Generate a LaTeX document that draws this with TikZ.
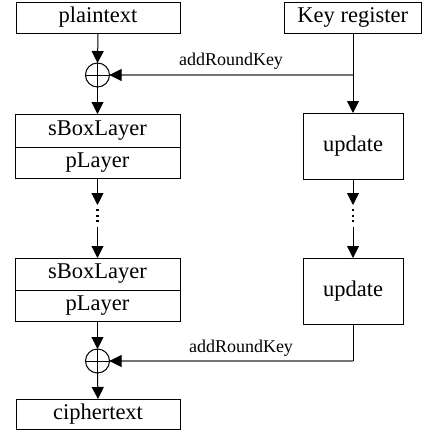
\documentclass[tikz,border=0pt]{standalone}
\usepackage{fontspec}
\setmainfont{Liberation Serif}
\usetikzlibrary{arrows.meta,calc}
\begin{document}
\begin{tikzpicture}[x=1pt,y=1pt,
  blk/.style={rectangle,inner sep=0pt,outer sep=0pt,font=\fontsize{22.5}{26}\selectfont},
  box/.style={line width=1pt},
  arr/.style={line width=1pt,-{Triangle[length=12pt,width=12pt]}},
  keyln/.style={line width=1.3pt,draw=black!55},
  lbl/.style={font=\fontsize{18}{21}\selectfont,anchor=base,inner sep=0pt},
  xorc/.style={draw,line width=1pt,circle,minimum size=24pt,inner sep=0pt,outer sep=0pt},
  dots/.style={line width=2.2pt,dash pattern=on 2pt off 3.5pt}
]
\useasboundingbox (0,0) rectangle (422,-434);
% boxes
\draw[box] (16,-2) rectangle (180,-33);
\draw[box] (15,-114) rectangle (180,-147);
\draw[box] (15,-147) rectangle (180,-178);
\draw[box] (15,-258) rectangle (180,-290);
\draw[box] (15,-290) rectangle (180,-321);
\draw[box] (16,-399) rectangle (180,-429);
\draw[box] (284,-2) rectangle (421.5,-33);
\draw[box] (303,-113) rectangle (403,-179);
\draw[box] (303,-258) rectangle (403,-324);
% text nodes
\node[blk,minimum width=164pt,minimum height=31pt] (plain) at (98,-17.5) {plaintext};
\node[blk,minimum width=165pt,minimum height=33pt] (sb1) at (97.5,-130.5) {sBoxLayer};
\node[blk,minimum width=165pt,minimum height=31pt] (pl1) at (97.5,-162.5) {pLayer};
\node[blk,minimum width=165pt,minimum height=32pt] (sb2) at (97.5,-274) {sBoxLayer};
\node[blk,minimum width=165pt,minimum height=31pt] (pl2) at (97.5,-305.5) {pLayer};
\node[blk,minimum width=164pt,minimum height=30pt] (ciph) at (98,-414) {ciphertext};
\node[blk,minimum width=137pt,minimum height=31pt] (key) at (352.75,-17.5) {Key register};
\node[blk,minimum width=100pt,minimum height=66pt] (u1) at (353,-146) {update};
\node[blk,minimum width=100pt,minimum height=66pt] (u2) at (353,-291) {update};
% xor
\node[xorc] (x1) at (97.5,-75) {};
\draw[line width=1pt] (x1.north) -- (x1.south) (x1.west) -- (x1.east);
\node[xorc] (x2) at (97.5,-361) {};
\draw[line width=1pt] (x2.north) -- (x2.south) (x2.west) -- (x2.east);
% coordinates
\coordinate (k1) at (u1.north |- x1.east);
\coordinate (k2) at (u2.south |- x2.east);
\coordinate (la) at (97.5,-205);
\coordinate (lb) at (97.5,-209);
\coordinate (lc) at (97.5,-224);
\coordinate (ld) at (97.5,-227);
\coordinate (ra) at (353,-205);
\coordinate (rb) at (353,-209);
\coordinate (rc) at (353,-224);
\coordinate (rd) at (353,-227);
% left connectors
\draw[arr] (plain.south) -- (x1.north);
\draw[arr] (x1.south) -- (sb1.north);
\draw[arr] (pl1.south) -- (la);
\draw[dots] (lb) -- (lc);
\draw[arr] (ld) -- (sb2.north);
\draw[arr] (pl2.south) -- (x2.north);
\draw[arr] (x2.south) -- (ciph.north);
% right connectors
\draw[arr] (u1.north |- key.south) -- (u1.north);
\draw[arr] (u1.south) -- (ra);
\draw[dots] (rb) -- (rc);
\draw[arr] (rd) -- (u2.north);
\draw[line width=1pt] (u2.south) -- (k2);
\draw[keyln] (k1) -- (x1.east);
\draw[keyln] (k2) -- (x2.east);
\draw[arr] ($(x1.east)+(10,0)$) -- (x1.east);
\draw[arr] ($(x2.east)+(10,0)$) -- (x2.east);
% labels
\node[lbl] (l1) at (231,-65) {addRoundKey};
\node[lbl] (l2) at (241,-352) {addRoundKey};
\end{tikzpicture}
\end{document}
